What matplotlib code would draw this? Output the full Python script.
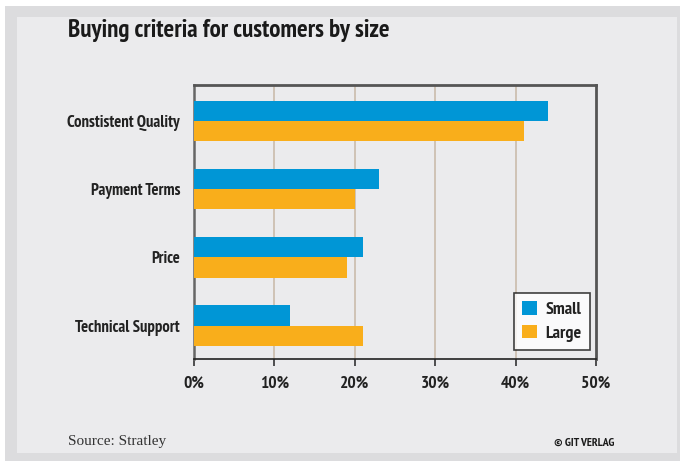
import numpy as np
import matplotlib.pyplot as plt
from matplotlib.patches import Rectangle

# Datos
categorias = ['Constistent Quality', 'Payment Terms', 'Price', 'Technical Support']
small = [44, 23, 21, 12]
large = [41, 20, 19, 21]
ticks_x = [0, 10, 20, 30, 40, 50]

azul = '#0096d6'
naranja = '#f9ae1b'
fondo = '#ebebed'
borde = '#dcdcde'

plt.rcParams['font.family'] = ['PT Sans Narrow', 'DejaVu Sans']

fig = plt.figure(figsize=(6.8, 4.61), dpi=100, facecolor='white')
# marco exterior
fig.patches.append(Rectangle((5/680, 0), 675/680, 1 - 6/461, transform=fig.transFigure,
                             facecolor=borde, edgecolor='none', zorder=-2))
fig.patches.append(Rectangle((17/680, 8/461), 660/680, 1 - 25/461, transform=fig.transFigure,
                             facecolor=fondo, edgecolor='none', zorder=-1))

ax = fig.add_axes([194/680, 1 - 359/461, 402/680, 274/461])
ax.set_facecolor(fondo)

y = np.arange(len(categorias))[::-1]
h = 0.295
ax.barh(y + h/2, small, height=h, color=azul, label='Small', zorder=3)
ax.barh(y - h/2, large, height=h, color=naranja, label='Large', zorder=3)

ax.set_xlim(0, 50)
ax.set_ylim(-0.49, 3.53)
ax.set_xticks(ticks_x)
ax.set_xticklabels([f'{t}%' for t in ticks_x], fontsize=12.5, fontweight='bold', color='#222222')
ax.set_yticks(y)
ax.set_yticklabels(categorias, fontsize=12, fontweight='bold', color='#222222')
ax.tick_params(axis='y', length=0, pad=10)
ax.tick_params(axis='x', direction='out', length=5, width=1.2, color='#333333', pad=7)

for t in ticks_x[1:-1]:
    ax.axvline(t, color='#cdbfb1', lw=1.3, zorder=1)

for s in ['top', 'right']:
    ax.spines[s].set_color('#555555')
    ax.spines[s].set_linewidth(2)
ax.spines['left'].set_color('#666666')
ax.spines['left'].set_linewidth(1.8)
ax.spines['bottom'].set_color('#222222')
ax.spines['bottom'].set_linewidth(1.2)

leg = ax.legend(loc='lower right', bbox_to_anchor=(0.985, 0.033), borderaxespad=0,
                prop={'family': 'PT Sans Narrow', 'weight': 'bold', 'size': 13},
                frameon=True, fancybox=False,
                handlelength=0.8, handleheight=0.8, handletextpad=0.5,
                borderpad=0.45, labelspacing=0.35)
leg.get_frame().set_edgecolor('#111111')
leg.get_frame().set_linewidth(1.2)
leg.get_frame().set_facecolor('white')
for txt in leg.get_texts():
    txt.set_color('#222222')

fig.text(68/680, 1 - 30/461, 'Buying criteria for customers by size', fontsize=18,
         fontweight='bold', color='#1a1a1a', va='center', ha='left')
fig.text(68/680, 1 - 441/461, 'Source: Stratley', fontsize=11, family='Liberation Serif',
         color='#333333', va='center', ha='left')
fig.text(614/680, 1 - 443/461, '© GIT VERLAG', fontsize=8.5, fontweight='bold',
         color='#1a1a1a', va='center', ha='right')

plt.savefig('out.png', dpi=100, facecolor=fig.get_facecolor())
